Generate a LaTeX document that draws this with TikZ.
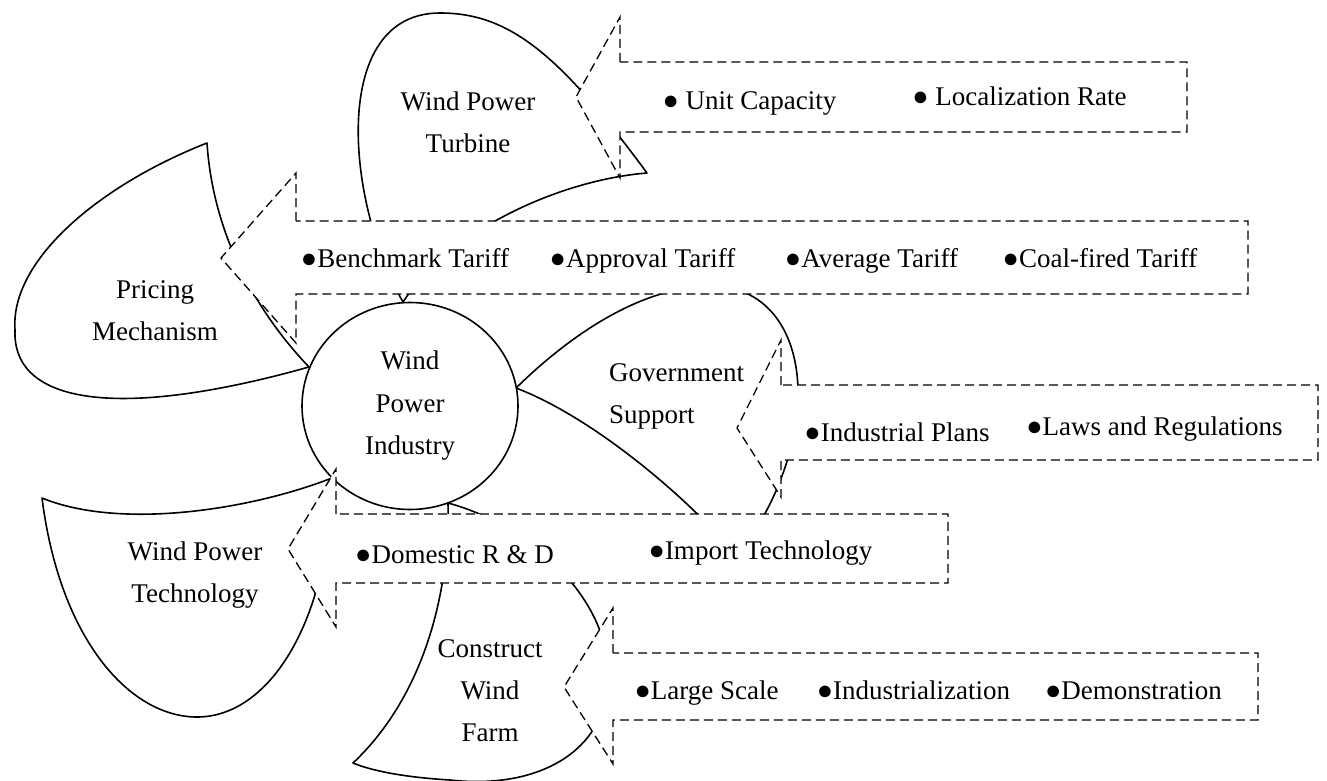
\documentclass[tikz,border=0pt]{standalone}
\usepackage{fontspec}
\setmainfont{Liberation Serif}
\usetikzlibrary{shapes.geometric}
\begin{document}
\begin{tikzpicture}[x=1pt,y=-1pt,
  petal/.style={draw=black, line width=1.6pt, fill=white, line join=round},
  hub/.style={draw=black, line width=1.6pt, fill=white, ellipse, inner sep=0pt,
              minimum width=216pt, minimum height=207pt,
              font=\fontsize{27}{42.5}\selectfont, align=center},
  dasharrow/.style={draw=black, line width=1.3pt, fill=white, dash pattern=on 9pt off 5pt},
  lbl/.style={font=\fontsize{27}{42}\selectfont, align=center, inner sep=0pt},
  item/.style={font=\fontsize{27}{32}\selectfont, inner sep=0pt, anchor=base}]
\useasboundingbox (0,0) rectangle (1327,781);

% petals
\draw[petal] (403,302) .. controls (345,200) and (330,13) .. (440,13)
  .. controls (510,13) and (560,55) .. (647,173)
  .. controls (560,180) and (450,230) .. (403,302) -- cycle;
\draw[petal] (309,367) .. controls (245,300) and (212,220) .. (207,143)
  .. controls (100,185) and (10,260) .. (15,330)
  .. controls (12,405) and (120,420) .. (309,367) -- cycle;
\draw[petal] (516,388) .. controls (560,345) and (630,290) .. (705,286)
  .. controls (765,283) and (800,330) .. (798,400)
  .. controls (797,450) and (770,520) .. (735,555)
  .. controls (700,510) and (600,420) .. (516,388) -- cycle;
\draw[petal] (332,478) .. controls (250,510) and (120,530) .. (42,498)
  .. controls (60,640) and (130,717) .. (197,717)
  .. controls (270,717) and (330,620) .. (332,478) -- cycle;
\draw[petal] (448,503) .. controls (450,600) and (420,700) .. (353,763)
  .. controls (370,770) and (400,777) .. (450,780)
  .. controls (540,790) and (606,750) .. (608,680)
  .. controls (612,600) and (530,525) .. (448,503) -- cycle;

% hub
\node[hub] (hub) at (410,406) {Wind\\Power\\Industry};

% dashed block arrows
\draw[dasharrow] (620,62) -- (620,17) -- (576,97) -- (620,178) -- (620,132) -- (1187,132) -- (1187,62) -- cycle;
\draw[dasharrow] (296,221) -- (296,173) -- (221,258) -- (296,343) -- (296,294) -- (1248,294) -- (1248,221) -- cycle;
\draw[dasharrow] (781,385) -- (781,340) -- (737,428) -- (781,497) -- (781,460) -- (1318,460) -- (1318,385) -- cycle;
\draw[dasharrow] (336,514) -- (336,469) -- (288,549) -- (336,627) -- (336,583) -- (948,583) -- (948,514) -- cycle;
\draw[dasharrow] (613,653) -- (613,608) -- (564,687) -- (613,764) -- (613,720) -- (1258,720) -- (1258,653) -- cycle;

% petal labels
\node[lbl] (turbine) at (468,122) {Wind Power\\Turbine};
\node[lbl] (pricing) at (155,311) {Pricing\\Mechanism};
\node[lbl, align=left, anchor=west] (gov) at (609,396) {Government\\Support};
\node[lbl] (tech) at (195,575) {Wind Power\\Technology};
\node[lbl] (farm) at (490,691) {Construct\\Wind\\Farm};

% items
\node[item] (t1) at (749.5,110) {● Unit Capacity};
\node[item] (t2) at (1019.5,106) {● Localization Rate};
\node[item] (p1) at (405,267) {●Benchmark Tariff};
\node[item] (p2) at (642.5,267) {●Approval Tariff};
\node[item] (p3) at (871.5,267) {●Average Tariff};
\node[item] (p4) at (1100,267) {●Coal-fired Tariff};
\node[item] (g1) at (897,441) {●Industrial Plans};
\node[item] (g2) at (1154.5,435) {●Laws and Regulations};
\node[item] (d1) at (454.5,563) {●Domestic R \& D};
\node[item] (d2) at (760.5,559) {●Import Technology};
\node[item] (f1) at (706.5,699) {●Large Scale};
\node[item] (f2) at (913.5,699) {●Industrialization};
\node[item] (f3) at (1133.5,699) {●Demonstration};
\end{tikzpicture}
\end{document}
